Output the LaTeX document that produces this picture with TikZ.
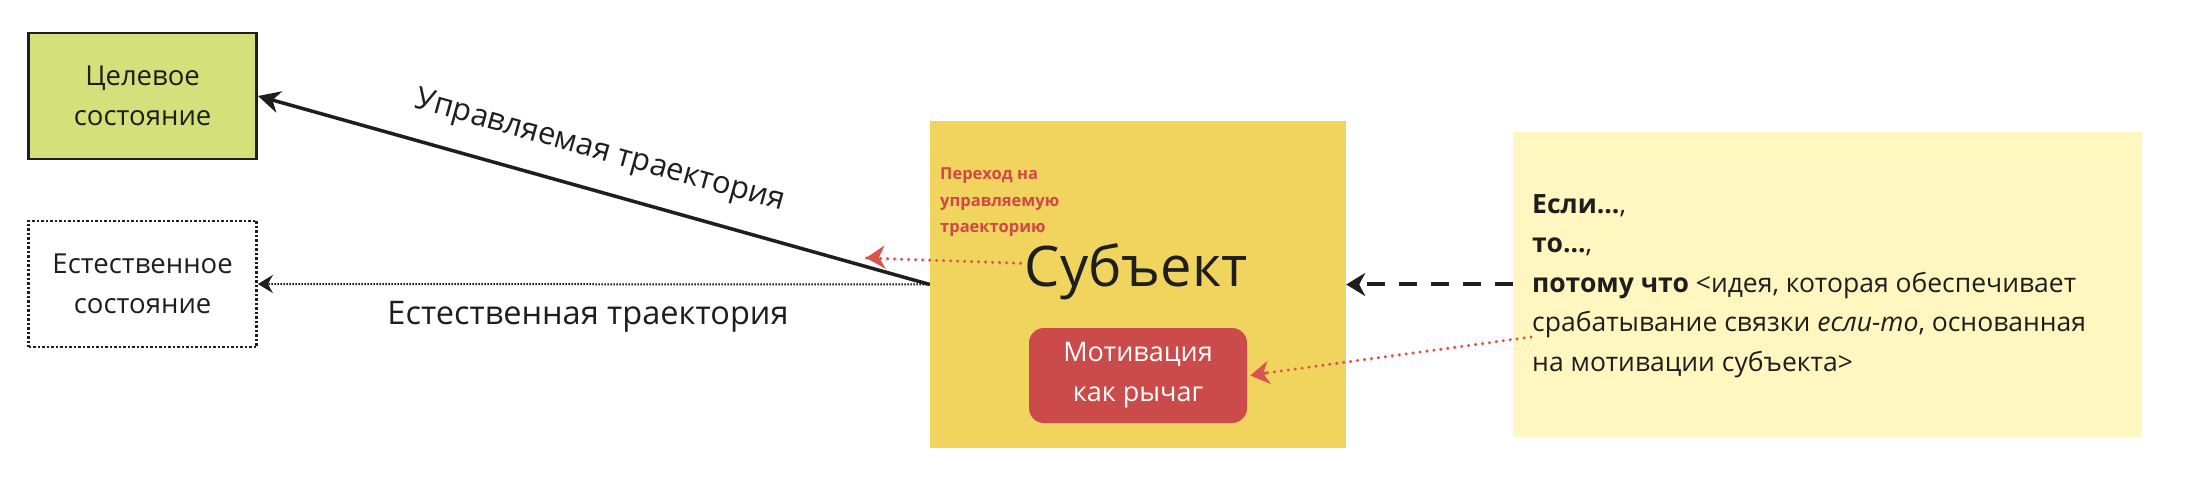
\documentclass[tikz,border=0pt]{standalone}
\usepackage{fontspec}
\setmainfont{Open Sans}
\usetikzlibrary{arrows.meta}
\definecolor{ink}{HTML}{1E1E1E}
\definecolor{targetfill}{HTML}{D4E17A}
\definecolor{subjfill}{HTML}{F1D45E}
\definecolor{motivfill}{HTML}{CB4A4A}
\definecolor{notefill}{HTML}{FFF7BF}
\definecolor{redtext}{HTML}{D04848}
\definecolor{redline}{HTML}{D9534F}
\tikzset{
  statebox/.style={draw=ink, minimum width=228pt, minimum height=126pt, align=center,
    font=\fontsize{27.5}{40}\selectfont, text=ink, inner sep=0pt},
  bigtip/.style={-{Stealth[length=22pt,width=22pt,inset=7pt]}},
  midtip/.style={-{Stealth[length=19pt,width=23pt,inset=6pt]}},
  smalltip/.style={-{Stealth[length=15pt,width=18pt,inset=5pt]}},
  reddots/.style={draw=redline, line width=3.4pt, line cap=round, dash pattern=on 0pt off 7pt},
  lbl/.style={font=\fontsize{31}{34}\selectfont, text=ink, inner sep=0pt}
}
\begin{document}
\begin{tikzpicture}[x=1pt,y=1pt]
\useasboundingbox (0,0) rectangle (2208,-494);
\fill[white] (0,0) rectangle (2208,-494);

% boxes
\node[statebox, fill=targetfill, line width=2.8pt] (target) at (142.6,-96) {Целевое\\состояние};
\node[statebox, line width=2.5pt, dash pattern=on 2.5pt off 2pt] (natural) at (142.6,-284) {Естественное\\состояние};
\node[fill=subjfill, minimum width=416pt, minimum height=327pt, inner sep=0pt] (subject) at (1138,-284.5) {};
\node[fill=notefill, minimum width=629pt, minimum height=305pt, inner sep=0pt] (note) at (1827.5,-284.5) {};

% subject contents
\node[font=\fontsize{56}{60}\selectfont, text=ink, inner sep=0pt, anchor=base] (subjtext) at (1136,-287) {Субъект};
\node[font=\fontsize{16.5}{26.5}\selectfont\bfseries, text=redtext, inner sep=0pt, anchor=north west, align=left] (trans) at (940,-168) {Переход на\\управляемую\\траекторию};
\node[fill=motivfill, rounded corners=15pt, minimum width=218pt, minimum height=95pt, inner sep=0pt,
  text=white, align=center, font=\fontsize{27}{40}\selectfont] (motiv) at (1138,-375.5) {Мотивация\\как рычаг};

% note text
\node[font=\fontsize{26.5}{39.6}\selectfont, text=ink, inner sep=0pt, anchor=north west, align=left] (notetext) at (1532,-194)
{\textbf{Если...},\\\textbf{то...},\\\textbf{потому что} <идея, которая обеспечивает\\срабатывание связки \textit{если-то}, основанная\\на мотивации субъекта>};

% connectors
\draw[ink, line width=3.5pt, bigtip] (subject.west) -- (target.east);
\node[lbl, rotate=-15.6] (ctrllbl) at (600,-152) {Управляемая траектория};
\draw[ink, line width=2pt, dash pattern=on 1.5pt off 1.5pt, smalltip] (subject.west) -- (natural.east);
\node[lbl, font=\fontsize{32.5}{34}\selectfont] (natlbl) at (588,-317) {Естественная траектория};

\coordinate (t1) at (866,-258);
\draw[reddots] ([yshift=9pt,xshift=-4pt]subjtext.west) -- (t1);
\draw[redline, line width=3.2pt, midtip] ([xshift=2pt,yshift=0.1pt]t1) -- (t1);

\draw[ink, line width=4pt, dash pattern=on 18pt off 14pt, midtip] (note.west) -- (subject.east);

\coordinate (n1) at (1531,-337);
\draw[reddots] (n1) -- ([xshift=18pt,yshift=2.4pt]motiv.east);
\draw[redline, line width=3.2pt, midtip] ([xshift=19pt,yshift=2.5pt]motiv.east) -- ([xshift=3pt,yshift=0pt]motiv.east);
\end{tikzpicture}
\end{document}
